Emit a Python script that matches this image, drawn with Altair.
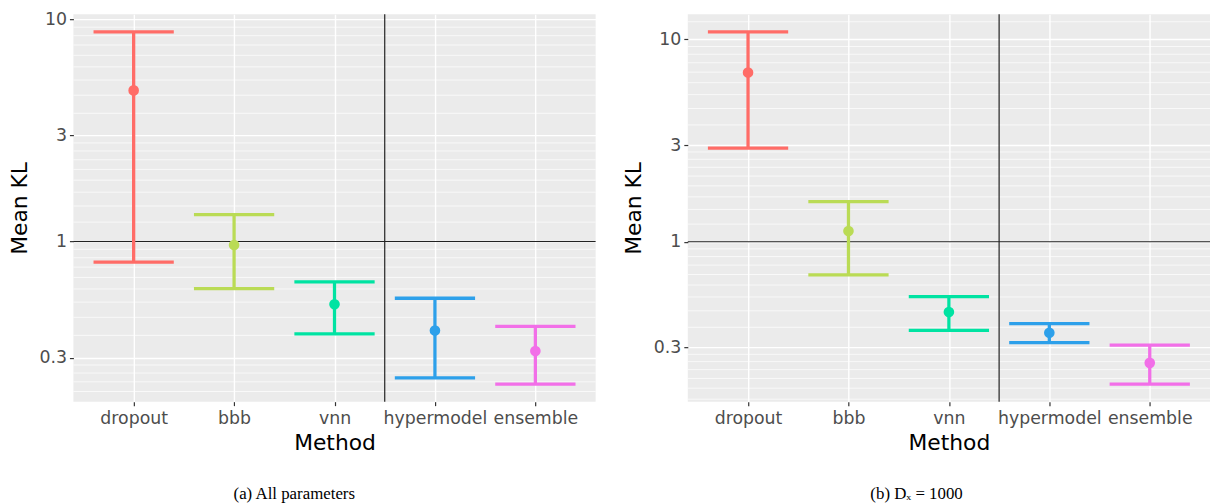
import math
import json
import altair as alt
import pandas as pd

# ---- data ----
methods = ["dropout", "bbb", "vnn", "hypermodel", "ensemble"]
colors = ["#FF6C67", "#BADB55", "#00E3A2", "#2DA0EA", "#F26FE8"]

kl_mean_a = [4.79, 0.964, 0.521, 0.397, 0.321]
kl_low_a = [0.807, 0.614, 0.384, 0.243, 0.228]
kl_high_a = [8.79, 1.32, 0.658, 0.555, 0.415]

kl_mean_b = [6.86, 1.13, 0.449, 0.355, 0.252]
kl_low_b = [2.90, 0.686, 0.365, 0.317, 0.198]
kl_high_b = [10.9, 1.58, 0.535, 0.394, 0.308]

y_ticks = [0.3, 1, 3, 10]
grid_majors = [0.1, 0.3, 1, 3, 10, 30]
ref_level = [1.0]
separator = [2.5]   # between vnn and hypermodel (index space)

caption_a = "(a) All parameters"
caption_b = "(b) D\u2093 = 1000"

FONT = "DejaVu Sans"
W, H = 527, 391
CAP = 81

label_expr = json.dumps(methods) + "[datum.value]"


def panel(mean, low, high, caption, dx):
    df = pd.DataFrame({"method": methods, "idx": list(range(len(methods))),
                       "mean": mean, "low": low, "high": high})
    lo = math.log10(min(low))
    hi = math.log10(max(high))
    span = hi - lo
    domain = [10 ** (lo - 0.05 * span), 10 ** (hi + 0.05 * span)]

    minor = []
    for a, b in zip(grid_majors[:-1], grid_majors[1:]):
        for i in range(1, 9):
            v = a + i * (b - a) / 9
            if domain[0] < v < domain[1]:
                minor.append(v)
    minor_df = pd.DataFrame({"v": minor})

    yscale = alt.Scale(type="log", domain=domain, nice=False)
    xscale = alt.Scale(domain=[-0.6, len(methods) - 0.4], nice=False, zero=False)
    yaxis = alt.Axis(values=y_ticks, format="~g", title="Mean KL")
    xaxis = alt.Axis(values=list(range(len(methods))), labelExpr=label_expr,
                     title="Method", labelFlush=False, labelOverlap=False)
    col = alt.Color("method:N", scale=alt.Scale(domain=methods, range=colors), legend=None)

    grid = alt.Chart(minor_df).mark_rule(color="white", strokeWidth=0.7).encode(
        y=alt.Y("v:Q", scale=yscale, axis=yaxis))
    hline = alt.Chart(pd.DataFrame({"r": ref_level})).mark_rule(
        color="#222222", strokeWidth=1.2).encode(y=alt.Y("r:Q", scale=yscale, axis=yaxis))
    vline = alt.Chart(pd.DataFrame({"s": separator})).mark_rule(
        color="#222222", strokeWidth=1.2).encode(x=alt.X("s:Q", scale=xscale, axis=xaxis))

    base = alt.Chart(df)
    x = alt.X("idx:Q", scale=xscale, axis=xaxis)
    bars = base.mark_rule(strokeWidth=3.3).encode(
        x=x, y=alt.Y("low:Q", scale=yscale, axis=yaxis), y2="high:Q", color=col)
    cap_lo = base.mark_tick(orient="horizontal", size=CAP, thickness=3.3, opacity=1).encode(
        x=x, y=alt.Y("low:Q", scale=yscale, axis=yaxis), color=col)
    cap_hi = base.mark_tick(orient="horizontal", size=CAP, thickness=3.3, opacity=1).encode(
        x=x, y=alt.Y("high:Q", scale=yscale, axis=yaxis), color=col)
    pts = base.mark_circle(size=115, opacity=1).encode(
        x=x, y=alt.Y("mean:Q", scale=yscale, axis=yaxis), color=col)

    return alt.layer(grid, hline, vline, bars, cap_lo, cap_hi, pts).properties(
        width=W, height=H,
        title=alt.TitleParams(caption, orient="bottom", anchor="middle", frame="bounds",
                              font="Liberation Serif", fontSize=17, fontWeight="normal",
                              color="black", offset=33, dx=dx))


left = panel(kl_mean_a, kl_low_a, kl_high_a, caption_a, -8)
right = panel(kl_mean_b, kl_low_b, kl_high_b, caption_b, 0)

chart = alt.hconcat(left, right, spacing=26).properties(
    padding={"left": 0, "top": 0, "right": 0, "bottom": 0}
).configure_view(fill="#EBEBEB", stroke=None).configure_axis(
    domain=False,
    grid=True, gridColor="white", gridWidth=1.4,
    tickColor="#333333", tickWidth=1.2, tickSize=4,
    labelFont=FONT, labelFontSize=17.5, labelColor="#4D4D4D", labelPadding=3,
    titleFont=FONT, titleFontSize=22, titleFontWeight="normal", titleColor="black",
    titlePadding=8,
).configure_axisX(labelPadding=4, titlePadding=6)

chart.save("out.html", embed_options={"renderer": "svg", "actions": False})
